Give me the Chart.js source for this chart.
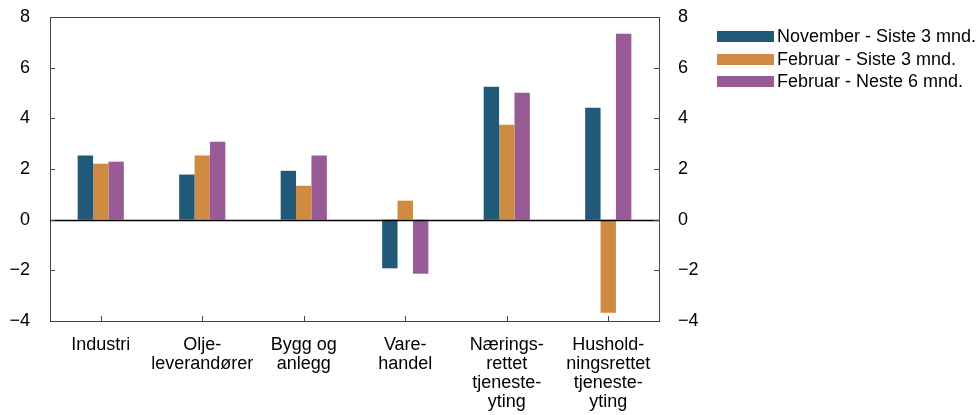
<!DOCTYPE html>
<html>
<head>
<meta charset="utf-8">
<script src="https://cdn.jsdelivr.net/npm/chart.js@4"></script>
<style>
  html, body { margin: 0; padding: 0; background: #fff; }
  #wrap { position: relative; width: 979px; height: 415px; }
  canvas { position: absolute; left: 0; top: 0; }
  #legend { position: absolute; left: 717px; top: 25.5px; font-family: "Liberation Sans", Arial, sans-serif; font-size: 18px; color: #000; }
  .row { display: flex; align-items: center; height: 22.5px; white-space: nowrap; }
  .sw { width: 57px; height: 11px; margin-right: 3px; }
</style>
</head>
<body>
<div id="wrap">
  <canvas id="c" width="979" height="415"></canvas>
  <div id="legend"></div>
</div>
<script>
const categories = [
  ["Industri"],
  ["Olje-", "leverandører"],
  ["Bygg og", "anlegg"],
  ["Vare-", "handel"],
  ["Nærings-", "rettet", "tjeneste-", "yting"],
  ["Hushold-", "ningsrettet", "tjeneste-", "yting"]
];
const seriesNames = ["November - Siste 3 mnd.", "Februar - Siste 3 mnd.", "Februar - Neste 6 mnd."];
const novSiste3 = [2.53, 1.78, 1.93, -1.92, 5.25, 4.42];
const febSiste3 = [2.21, 2.53, 1.34, 0.75, 3.75, -3.67];
const febNeste6 = [2.29, 3.08, 2.53, -2.13, 5.01, 7.34];
const yTicks = [-4, -2, 0, 2, 4, 6, 8];
const colors = ["#215a78", "#cf8b41", "#985b96"];

const FONT = "Liberation Sans";

const framePlugin = {
  id: 'frame',
  afterDatasetsDraw(chart) {
    const ctx = chart.ctx;
    const a = chart.chartArea;
    const y = chart.scales.y;
    const x = chart.scales.x;
    ctx.save();
    // zero line
    ctx.strokeStyle = '#000';
    ctx.lineWidth = 1.3;
    const z = Math.round(y.getPixelForValue(0)) + 0.5;
    ctx.beginPath(); ctx.moveTo(a.left, z); ctx.lineTo(a.right, z); ctx.stroke();
    // frame
    ctx.strokeStyle = '#444';
    ctx.lineWidth = 1;
    ctx.strokeRect(Math.round(a.left) + 0.5, Math.round(a.top) + 0.5, Math.round(a.right - a.left), Math.round(a.bottom - a.top));
    // inward ticks
    ctx.beginPath();
    yTicks.forEach(v => {
      const p = Math.round(y.getPixelForValue(v)) + 0.5;
      ctx.moveTo(a.left, p); ctx.lineTo(a.left + 5, p);
      ctx.moveTo(a.right, p); ctx.lineTo(a.right - 5, p);
    });
    categories.forEach((c, i) => {
      const p = Math.round(x.getPixelForValue(i)) + 0.5;
      ctx.moveTo(p, a.bottom); ctx.lineTo(p, a.bottom - 5);
    });
    ctx.stroke();
    ctx.restore();
  }
};

const fmt = v => String(v).replace('-', '\u2212');

new Chart(document.getElementById('c'), {
  type: 'bar',
  data: {
    labels: categories,
    datasets: [
      { label: seriesNames[0], data: novSiste3, backgroundColor: colors[0], yAxisID: 'y' },
      { label: seriesNames[1], data: febSiste3, backgroundColor: colors[1], yAxisID: 'y' },
      { label: seriesNames[2], data: febNeste6, backgroundColor: colors[2], yAxisID: 'y' }
    ]
  },
  options: {
    responsive: false,
    animation: false,
    devicePixelRatio: 1,
    layout: { padding: { left: 0, right: 260, top: 17, bottom: 0 } },
    datasets: { bar: { categoryPercentage: 0.455, barPercentage: 1.0 } },
    plugins: { legend: { display: false }, tooltip: { enabled: false } },
    scales: {
      x: {
        grid: { display: false, drawTicks: false },
        border: { display: false },
        ticks: { color: '#000', font: { family: FONT, size: 18, lineHeight: 1.05 }, padding: 15, maxRotation: 0, autoSkip: false },
        afterFit(s) { s.height = 94; s.paddingLeft = 0; s.paddingRight = 0; }
      },
      y: {
        position: 'left',
        min: -4, max: 8,
        grid: { display: false, drawTicks: false },
        border: { display: false },
        afterBuildTicks(s) { s.ticks = yTicks.map(v => ({ value: v })); },
        ticks: { color: '#000', font: { family: FONT, size: 18 }, padding: 20, callback: fmt },
        afterFit(s) { s.width = 50; s.paddingTop = 0; s.paddingBottom = 0; }
      },
      y2: {
        position: 'right',
        min: -4, max: 8,
        grid: { display: false, drawTicks: false },
        border: { display: false },
        afterBuildTicks(s) { s.ticks = yTicks.map(v => ({ value: v })); },
        ticks: { color: '#000', font: { family: FONT, size: 18 }, padding: 19, callback: fmt },
        afterFit(s) { s.width = 60; s.paddingTop = 0; s.paddingBottom = 0; }
      }
    }
  },
  plugins: [framePlugin]
});

const leg = document.getElementById('legend');
seriesNames.forEach((n, i) => {
  const r = document.createElement('div'); r.className = 'row';
  const s = document.createElement('div'); s.className = 'sw'; s.style.background = colors[i];
  const t = document.createElement('span'); t.textContent = n;
  r.appendChild(s); r.appendChild(t); leg.appendChild(r);
});
</script>
</body>
</html>
